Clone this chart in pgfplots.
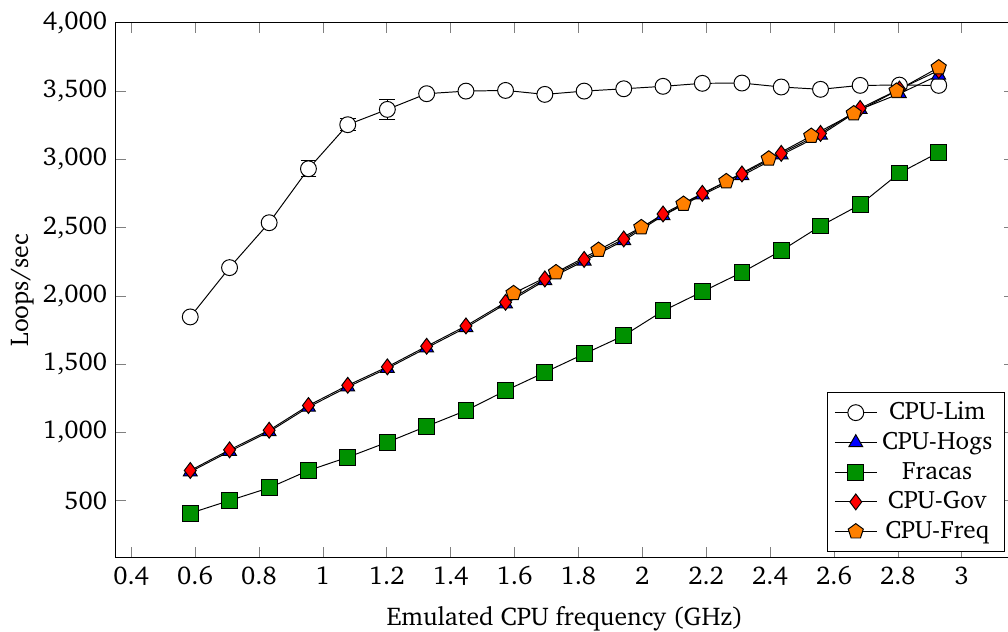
\documentclass[border=0pt]{standalone}
\usepackage[T1]{fontenc}
\usepackage{charter}
\usepackage{pgfplots}
\pgfplotsset{compat=1.18}
\definecolor{fgreen}{RGB}{0,145,0}
\definecolor{forange}{RGB}{255,128,0}
\begin{document}
\begin{tikzpicture}
\begin{axis}[name=ax, scale only axis, width=367.6pt, height=219pt,
  xmin=0.352, xmax=3.164, ymin=80, ymax=4000,
  xtick={0.4,0.6,0.8,1,1.2,1.4,1.6,1.8,2,2.2,2.4,2.6,2.8,3},
  ytick={500,1000,1500,2000,2500,3000,3500,4000},
  xlabel={Emulated CPU frequency (GHz)}, ylabel={Loops/sec},
  font=\fontsize{10.5}{12.6}\selectfont,
  xlabel style={at={(axis description cs:0.5,0)}, anchor=base, yshift=-27.7pt},
  ylabel style={at={(axis description cs:-0.1043,0.5)}, anchor=center},
  /pgf/number format/assume math mode=true,
  legend style={at={(1,0)}, anchor=south east, xshift=-3.7pt, yshift=2.3pt, row sep=-0.4pt, font=\fontsize{10.3}{12.4}\selectfont},
  legend cell align=center,
]
\addplot[black, thin, mark=*, mark size=3.25pt, mark options={solid, draw=black, fill=white}, error bars/.cd, y dir=both, y explicit, error bar style={black, thin}]
coordinates {
(0.585,1845) +- (0,8)
(0.708,2206) +- (0,8)
(0.832,2535) +- (0,8)
(0.955,2930) +- (0,58)
(1.078,3253) +- (0,45)
(1.202,3365) +- (0,72)
(1.325,3480) +- (0,10)
(1.448,3499) +- (0,10)
(1.572,3504) +- (0,10)
(1.695,3475) +- (0,15)
(1.818,3499) +- (0,8)
(1.942,3516) +- (0,8)
(2.065,3534) +- (0,8)
(2.188,3556) +- (0,8)
(2.312,3558) +- (0,8)
(2.435,3529) +- (0,8)
(2.558,3512) +- (0,8)
(2.682,3541) +- (0,8)
(2.805,3543) +- (0,8)
(2.928,3541) +- (0,8)
};
\addlegendentry{CPU-Lim}
\addplot[black, thin, mark=triangle*, mark size=3.25pt, mark options={solid, draw=black, fill=blue}]
coordinates {
(0.585,710) (0.708,860) (0.832,1004) (0.955,1184) (1.078,1332)
(1.202,1468) (1.325,1618) (1.448,1767) (1.572,1940) (1.695,2111)
(1.818,2254) (1.942,2404) (2.065,2587) (2.188,2738) (2.312,2880)
(2.435,3031) (2.558,3177) (2.682,3365) (2.805,3480) (2.928,3616)
};
\addlegendentry{CPU-Hogs}
\addplot[black, thin, mark=square*, mark size=3.25pt, mark options={solid, draw=black, fill=fgreen}]
coordinates {
(0.585,407) (0.708,500) (0.832,593) (0.955,720) (1.078,817)
(1.202,927) (1.325,1044) (1.448,1159) (1.572,1305) (1.695,1439)
(1.818,1574) (1.942,1708) (2.065,1889) (2.188,2030) (2.312,2171)
(2.435,2330) (2.558,2511) (2.682,2667) (2.805,2899) (2.928,3050)
};
\addlegendentry{Fracas}
\addplot[black, thin, mark=diamond*, mark size=3.25pt, mark options={solid, draw=black, fill=red}]
coordinates {
(0.585,720) (0.708,871) (0.832,1015) (0.955,1196) (1.078,1344)
(1.202,1479) (1.325,1630) (1.448,1779) (1.572,1952) (1.695,2123)
(1.818,2266) (1.942,2416) (2.065,2599) (2.188,2750) (2.312,2892)
(2.435,3043) (2.558,3189) (2.682,3372) (2.805,3514) (2.928,3650)
};
\addlegendentry{CPU-Gov}
\addplot[black, thin, mark=pentagon*, mark size=3.25pt, mark options={solid, draw=black, fill=forange}]
coordinates {
(1.597,2018) (1.730,2171) (1.863,2335) (1.997,2501) (2.129,2672)
(2.263,2838) (2.396,3004) (2.529,3170) (2.662,3335) (2.796,3501)
(2.928,3672)
};
\addlegendentry{CPU-Freq}
\end{axis}
\pgfresetboundingbox
\path[use as bounding box] ([xshift=-47.4pt,yshift=-30.2pt]ax.south west) rectangle ([xshift=-2.5pt,yshift=9.3pt]ax.north east);
\end{tikzpicture}
\end{document}
